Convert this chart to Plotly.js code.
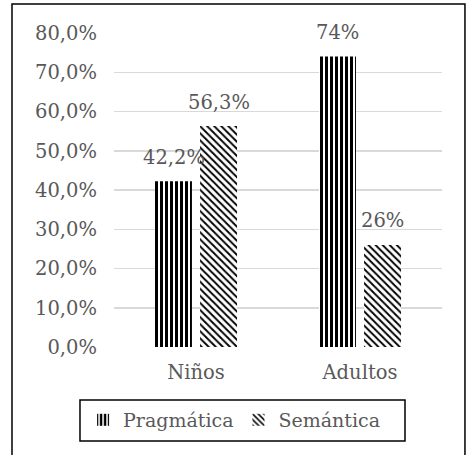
<!DOCTYPE html>
<html><head><meta charset="utf-8">
<script src="https://cdn.plot.ly/plotly-3.0.1.min.js"></script>
<style>html,body{margin:0;padding:0;background:#fff}#chart{width:471px;height:455px}</style>
</head><body><div id="chart"></div>
<script>
const categories = ['Niños', 'Adultos'];
const seriesNames = ['Pragmática', 'Semántica'];
const pragmatica = [42.2, 74];
const semantica = [56.3, 26];
const pragmaticaLabels = ['42,2%', '74%'];
const semanticaLabels = ['56,3%', '26%'];
const tickValues = [0, 10, 20, 30, 40, 50, 60, 70, 80];
const tickLabels = ['0,0%', '10,0%', '20,0%', '30,0%', '40,0%', '50,0%', '60,0%', '70,0%', '80,0%'];

const FONT = 'DejaVu Serif, serif';
const GREY = '#595959';
const FS = 19.5;
const data = [
  {type: 'bar', name: seriesNames[0], x: categories, y: pragmatica,
   marker: {color: '#ffffff', line: {width: 0}, pattern: {shape: '|', fgcolor: '#000000', bgcolor: '#ffffff', fgopacity: 1, size: 5, solidity: 0.6, fillmode: 'overlay'}}},
  {type: 'bar', name: seriesNames[1], x: categories, y: semantica,
   marker: {color: '#ffffff', line: {width: 0}, pattern: {shape: '\\', fgcolor: '#000000', bgcolor: '#ffffff', fgopacity: 1, size: 5, solidity: 0.38, fillmode: 'overlay'}}}
];
const series = [[pragmatica, pragmaticaLabels, -22.5], [semantica, semanticaLabels, 22.5]];
const annotations = [];
series.forEach(([vals, labels, dx]) => {
  categories.forEach((c, i) => {
    annotations.push({x: c, y: vals[i], xref: 'x', yref: 'y', text: labels[i], showarrow: false,
      xshift: dx, yshift: 24, yanchor: 'middle', xanchor: 'center',
      font: {family: FONT, size: FS, color: GREY}});
  });
});
const layout = {
  width: 471, height: 455,
  margin: {l: 114, r: 29, t: 33, b: 108},
  paper_bgcolor: '#ffffff', plot_bgcolor: '#ffffff',
  font: {family: FONT, size: FS, color: GREY},
  barmode: 'group', bargap: 0.45, bargroupgap: 0.18,
  showlegend: true,
  annotations: annotations,
  legend: {orientation: 'h', xref: 'container', yref: 'container', x: 0.497, xanchor: 'center', y: 0.077, yanchor: 'middle',
    borderwidth: 0, bgcolor: 'rgba(0,0,0,0)', font: {family: FONT, size: 19, color: GREY}},
  xaxis: {showline: false, ticks: '', ticklabelstandoff: 11, tickfont: {family: FONT, size: FS, color: GREY}},
  yaxis: {range: [0, 80], tickvals: tickValues, ticktext: tickLabels, showgrid: true, gridcolor: '#d9d9d9', gridwidth: 1.5,
    zeroline: false, showline: false, ticks: '', ticklabelstandoff: 16, tickfont: {family: FONT, size: FS, color: GREY}},
  shapes: [
    {type: 'rect', xref: 'paper', yref: 'paper', x0: -0.311, x1: 1.07, y0: -0.36, y1: 1.092,
     line: {color: '#000000', width: 1.5}, fillcolor: 'rgba(0,0,0,0)', layer: 'below'},
    {type: 'rect', xref: 'paper', yref: 'paper', x0: -0.1037, x1: 0.8872, y0: -0.2994, y1: -0.1688,
     line: {color: '#000000', width: 1.5}, fillcolor: 'rgba(0,0,0,0)', layer: 'below'}
  ]
};
Plotly.newPlot('chart', data, layout, {displayModeBar: false, staticPlot: true});
</script></body></html>
